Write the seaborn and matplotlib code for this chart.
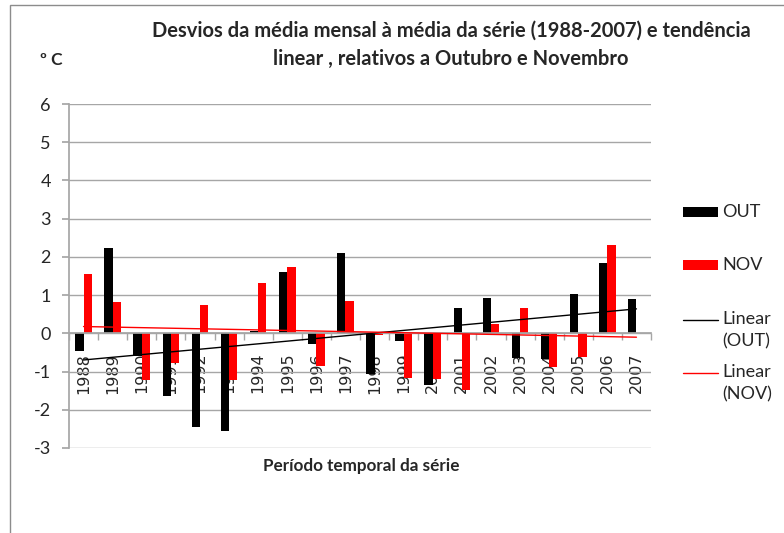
import matplotlib
matplotlib.use("Agg")
import matplotlib.pyplot as plt
import seaborn as sns
import numpy as np
import pandas as pd
from matplotlib.lines import Line2D
from matplotlib.patches import Rectangle

years = [str(y) for y in range(1988, 2008)]
out_vals = [-0.45, 2.24, -0.58, -1.65, -2.45, -2.56, 0.05, 1.60, -0.27, 2.09,
            -1.07, -0.20, -1.36, 0.65, 0.93, -0.65, -0.66, 1.02, 1.84, 0.91]
nov_vals = [1.54, 0.82, -1.23, -0.77, 0.73, -1.23, 1.32, 1.74, -0.86, 0.85,
            -0.04, -1.16, -1.19, -1.47, 0.25, 0.65, -0.88, -0.62, 2.30, 0.02]
series = ["OUT", "NOV"]
colors = ["#000000", "#ff0000"]
yticks = list(range(-3, 7))
legend_labels = ["OUT", "NOV", "Linear\n(OUT)", "Linear\n(NOV)"]

title = "Desvios da média mensal à média da série (1988-2007) e tendência\nlinear , relativos a Outubro e Novembro"
xlabel = "Período temporal da série"
unit = "º C"

df = pd.DataFrame({
    "year": years * 2,
    "value": out_vals + nov_vals,
    "series": ["OUT"] * len(years) + ["NOV"] * len(years),
})

sns.set_theme(style="white")
plt.rcParams["font.family"] = ["Lato", "DejaVu Sans"]

fig = plt.figure(figsize=(7.84, 5.33), dpi=100)
W, H = 784, 533
ax = fig.add_axes([69 / W, 1 - 448 / H, (651 - 69) / W, (448 - 104) / H])

sns.barplot(data=df, x="year", y="value", hue="series", order=years,
            hue_order=series, palette=colors, width=0.57, ax=ax,
            legend=False, saturation=1, edgecolor="none")

xs = np.arange(len(years))
for vals, c in zip([out_vals, nov_vals], colors):
    k, b = np.polyfit(xs, vals, 1)
    ax.plot(xs, k * xs + b, color=c, lw=1.0, zorder=5)

ax.set_xlim(-0.5, len(years) - 0.5)
ax.set_ylim(-3, 6)
ax.set_yticks(yticks)
ax.set_yticklabels([str(t) for t in yticks], fontsize=13)
ax.yaxis.grid(True, color="#a6a6a6", lw=1)
ax.set_axisbelow(True)
ax.set_xlabel("")
ax.set_ylabel("")

for s in ["top", "right"]:
    ax.spines[s].set_visible(False)
ax.spines["left"].set_color("#a6a6a6")
ax.spines["bottom"].set_color("#a6a6a6")
ax.spines["bottom"].set_position(("data", 0))

ax.tick_params(axis="y", which="both", length=5, color="#a6a6a6", direction="out", left=True, pad=8)
ax.set_xticks(xs)
ax.set_xticklabels(years, rotation=90, fontsize=11.5, family="DejaVu Sans")
ax.tick_params(axis="x", which="major", length=0, pad=14, bottom=True)
ax.set_xticks(np.arange(-0.5, len(years) + 0.5, 1), minor=True)
ax.tick_params(axis="x", which="minor", length=5, color="#a6a6a6", direction="out", bottom=True)

fig.text(451 / W, 1 - 45 / H, title, ha="center", va="center", fontsize=14.5,
         fontweight="bold", linespacing=1.5)
fig.text(40 / W, 1 - 60 / H, unit, ha="left", va="center", fontsize=12.5, fontweight="bold")
fig.text(361 / W, 1 - 466 / H, xlabel, ha="center", va="center", fontsize=12.3, fontweight="bold")

# legend, drawn by hand to match the original layout
hx0, hx1, tx = 683 / W, 718 / W, 722 / W
rect_y = [212, 265]
for yc, c, lab in zip(rect_y, colors, legend_labels[:2]):
    fig.add_artist(Rectangle((hx0, 1 - (yc + 5) / H), hx1 - hx0, 10 / H,
                             transform=fig.transFigure, facecolor=c, edgecolor="none"))
    fig.text(tx, 1 - yc / H, lab, ha="left", va="center", fontsize=13)
line_y = [320, 373]
for yl, c, lab in zip(line_y, colors, legend_labels[2:]):
    fig.add_artist(Line2D([hx0, hx1], [1 - yl / H, 1 - yl / H], transform=fig.transFigure,
                          color=c, lw=1))
    fig.text(tx, 1 - (yl - 9) / H, lab, ha="left", va="top", fontsize=13, linespacing=1.45)

fig.add_artist(Rectangle((10 / W, -0.1), 1.2, 1 - 5 / H + 0.1, transform=fig.transFigure,
                         fill=False, edgecolor="#8c8c8c", lw=1))

fig.savefig("out.png", dpi=100)
